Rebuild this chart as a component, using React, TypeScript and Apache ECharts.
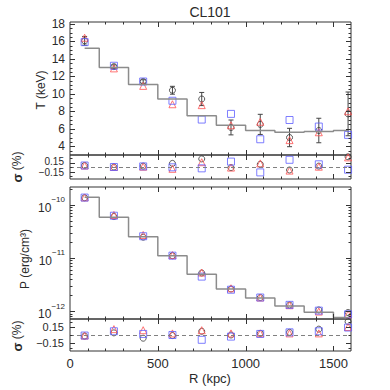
import React, { useEffect, useRef } from 'react';
import * as echarts from 'echarts';

// ---------- data ----------
const chartTitle = 'CL101';
const radiusKpc = [83.3, 250, 416.7, 583.3, 750, 916.7, 1083.3, 1250, 1416.7, 1583.3];

// temperature panel (keV)
const tModel = [15.2, 13.0, 11.05, 9.4, 7.5, 6.4, 5.8, 5.6, 5.7, 5.8];
const tBlack = [16.05, 13.1, 11.4, 10.4, 9.4, 6.15, 6.5, 5.0, 5.8, 7.7];
const tBlackErr = [0.5, 0.2, 0.2, 0.45, 0.75, 0.85, 1.15, 1.05, 1.4, 2.5];
const tRed = [16.4, 12.9, 10.9, 8.8, 8.7, 6.4, 6.8, 4.7, 5.6, 8.0];
const tBlue = [15.9, 13.2, 11.4, 9.2, 7.05, 7.7, 4.8, 7.0, 6.25, 5.3];

// temperature residuals
const sigT_black = [0.05, 0.0, 0.03, 0.12, 0.27, -0.02, 0.09, -0.1, 0.03, 0.34];
const sigT_red = [0.05, 0.0, 0.01, -0.06, 0.16, -0.02, 0.12, -0.12, 0.01, 0.32];
const sigT_blue = [0.05, 0.0, 0.02, -0.01, -0.045, 0.18, -0.18, 0.24, 0.09, -0.09];

// pressure panel (erg/cm^3)
const pModel = [1.38e-10, 5.8e-11, 2.5e-11, 1.1e-11, 4.9e-12, 2.6e-12, 1.76e-12, 1.25e-12, 9.5e-13, 7.6e-13];
const pBlack = [1.35e-10, 6.0e-11, 2.45e-11, 1.1e-11, 5.2e-12, 2.6e-12, 1.8e-12, 1.3e-12, 1.05e-12, 9.4e-13];
const pRed = [1.37e-10, 6.4e-11, 2.7e-11, 1.13e-11, 5.3e-12, 2.68e-12, 1.8e-12, 1.29e-12, 9.8e-13, 8.7e-13];
const pBlue = [1.36e-10, 6.2e-11, 2.55e-11, 1.1e-11, 4.45e-12, 2.52e-12, 1.8e-12, 1.31e-12, 1.02e-12, 8.7e-13];

// pressure residuals
const sigP_black = [-0.02, 0.04, -0.06, -0.01, 0.07, 0.0, 0.03, 0.05, 0.11, 0.25];
const sigP_red = [-0.01, 0.11, 0.09, 0.03, 0.09, 0.03, 0.03, 0.03, 0.03, 0.15];
const sigP_blue = [-0.01, 0.07, 0.02, 0.0, -0.09, -0.03, 0.02, 0.05, 0.07, 0.14];

// tick values
const xTickLabels = [0, 500, 1000, 1500];
const xMajorTicks = [500, 1000, 1500];
const xMinorTicks = [100, 200, 300, 400, 600, 700, 800, 900, 1100, 1200, 1300, 1400];
const tMajorTicks = [4, 6, 8, 10, 12, 14, 16, 18];
const tMinorTicks = [3.5, 4.5, 5, 5.5, 6.5, 7, 7.5, 8.5, 9, 9.5, 10.5, 11, 11.5, 12.5, 13, 13.5, 14.5, 15, 15.5, 16.5, 17, 17.5];
const sigMajorTicks = [-0.15, 0.15];
const sigMinorTicks = [-0.3, 0, 0.3];
const sig2MinorTicks = [-0.25, 0, 0.25];
const pMajorTicks = [1e-12, 1e-11, 1e-10];
const pMinorTicks = [8e-13, 9e-13, 2e-12, 3e-12, 4e-12, 5e-12, 6e-12, 7e-12, 8e-12, 9e-12,
  2e-11, 3e-11, 4e-11, 5e-11, 6e-11, 7e-11, 8e-11, 9e-11, 2e-10];

// ---------- styles ----------
const FONT = '"Liberation Sans", Arial, Helvetica, sans-serif';
const TXT = '#2a2a2a';
const AXIS = '#333333';
const RED = '#ff5252';
const BLUE = '#5e5eff';
const BLACK = '#333333';
const MODEL = '#8c8c8c';

const grids = [
  { left: 70, top: 22, width: 281, height: 133 },
  { left: 70, top: 155, width: 281, height: 24 },
  { left: 70, top: 187, width: 281, height: 132 },
  { left: 70, top: 319, width: 281, height: 32 },
];

const zip = (xs: number[], ys: number[]) => xs.map((x, i) => [x, ys[i]]);

function tickSeries(grid: number, xRefY: number, yRefX: number, yMajor: number[], yMinor: number[]) {
  const data: number[][] = [];
  xMajorTicks.forEach((v) => data.push([v, xRefY, 0, 5]));
  xMinorTicks.forEach((v) => data.push([v, xRefY, 0, 2.5]));
  yMajor.forEach((v) => data.push([yRefX, v, 1, 5]));
  yMinor.forEach((v) => data.push([yRefX, v, 1, 2.5]));
  return {
    type: 'custom',
    xAxisIndex: grid,
    yAxisIndex: grid,
    silent: true,
    z: 10,
    data,
    encode: { x: 0, y: 1 },
    renderItem: (params: any, api: any) => {
      const cs = params.coordSys;
      const kind = api.value(2);
      const len = api.value(3);
      const pt = api.coord([api.value(0), api.value(1)]);
      const style = { stroke: AXIS, lineWidth: 1 };
      if (kind === 0) {
        const x = Math.round(pt[0]) + 0.5;
        return {
          type: 'group',
          children: [
            { type: 'line', shape: { x1: x, y1: cs.y + cs.height, x2: x, y2: cs.y + cs.height - len }, style },
            { type: 'line', shape: { x1: x, y1: cs.y, x2: x, y2: cs.y + len }, style },
          ],
        };
      }
      const y = Math.round(pt[1]) + 0.5;
      return {
        type: 'group',
        children: [
          { type: 'line', shape: { x1: cs.x, y1: y, x2: cs.x + len, y2: y }, style },
          { type: 'line', shape: { x1: cs.x + cs.width, y1: y, x2: cs.x + cs.width - len, y2: y }, style },
        ],
      };
    },
  };
}

function markers(grid: number, ys: number[], kind: 'black' | 'red' | 'blue', extra: any = {}) {
  const sym = kind === 'black' ? 'circle' : kind === 'red' ? 'triangle' : 'rect';
  const col = kind === 'black' ? BLACK : kind === 'red' ? RED : BLUE;
  const size = kind === 'black' ? 6 : 7;
  return {
    type: 'scatter',
    xAxisIndex: grid,
    yAxisIndex: grid,
    symbol: sym,
    symbolSize: size,
    silent: true,
    itemStyle: { color: 'rgba(0,0,0,0)', borderColor: col, borderWidth: 1 },
    data: zip(radiusKpc, ys),
    ...extra,
  };
}

const zeroLine = {
  silent: true,
  symbol: ['none', 'none'],
  label: { show: false },
  lineStyle: { color: '#808080', type: [4, 3], width: 1 },
  data: [{ yAxis: 0 }],
};

export default function App() {
  const ref = useRef<HTMLDivElement>(null);
  useEffect(() => {
    if (!ref.current) return;
    const chart = echarts.init(ref.current, null, { renderer: 'svg' });

    const xAxis = grids.map((_, i) => ({
      type: 'value',
      gridIndex: i,
      min: 0,
      max: 1600,
      interval: 500,
      axisLine: { show: false },
      axisTick: { show: false },
      splitLine: { show: false },
      axisLabel:
        i === 3
          ? {
              show: true,
              margin: 6,
              fontSize: 13,
              fontFamily: FONT,
              color: TXT,
              formatter: (v: number) => (xTickLabels.includes(v) ? String(v) : ''),
            }
          : { show: false },
    }));

    const sigLabel = (v: number) => {
      if (Math.abs(Math.abs(v) - 0.15) < 1e-6) return v > 0 ? '0.15' : '\u22120.15';
      return '';
    };
    const sigLabelTight = (v: number) => {
      if (Math.abs(Math.abs(v) - 0.15) < 1e-6) return v > 0 ? '{u|0.15}' : '{d|\u22120.15}';
      return '';
    };
    const baseY = {
      axisLine: { show: false },
      axisTick: { show: false },
      splitLine: { show: false },
    };
    const yAxis = [
      {
        ...baseY,
        type: 'value',
        gridIndex: 0,
        min: 3,
        max: 18.2,
        interval: 1,
        axisLabel: {
          margin: 5,
          fontSize: 12,
          fontFamily: FONT,
          color: TXT,
          formatter: (v: number) => {
            const r = Math.round(v);
            return Math.abs(v - r) < 1e-6 && r % 2 === 0 && r >= 4 ? String(r) : '';
          },
        },
      },
      {
        ...baseY,
        type: 'value',
        gridIndex: 1,
        min: -0.4,
        max: 0.4,
        interval: 0.05,
        axisLabel: {
          margin: 6,
          fontFamily: FONT,
          color: TXT,
          formatter: sigLabelTight,
          rich: {
            u: { fontSize: 10, lineHeight: 10, fontFamily: FONT, color: TXT, padding: [0, 0, 2, 0] },
            d: { fontSize: 10, lineHeight: 10, fontFamily: FONT, color: TXT, padding: [2, 0, 0, 0] },
          },
        },
      },
      {
        ...baseY,
        type: 'log',
        logBase: 10,
        gridIndex: 2,
        min: 7.1e-13,
        max: 2.15e-10,
        axisLabel: {
          margin: 5,
          fontFamily: FONT,
          color: TXT,
          formatter: (v: number) => {
            const e = Math.log10(v);
            const r = Math.round(e);
            if (Math.abs(e - r) < 1e-4) return `{b|10}{s|${r < 0 ? '\u2212' : ''}${Math.abs(r)}}`;
            return '';
          },
          rich: {
            b: { fontSize: 12, fontFamily: FONT, color: TXT, lineHeight: 18, verticalAlign: 'bottom' },
            s: { fontSize: 8, fontFamily: FONT, color: TXT, lineHeight: 18, verticalAlign: 'top' },
          },
        },
      },
      {
        ...baseY,
        type: 'value',
        gridIndex: 3,
        min: -0.3,
        max: 0.3,
        interval: 0.05,
        axisLabel: { margin: 6, fontSize: 11, lineHeight: 12, fontFamily: FONT, color: TXT, formatter: sigLabel },
      },
    ];

    const series: any[] = [
      // Temperature panel
      {
        type: 'line',
        xAxisIndex: 0,
        yAxisIndex: 0,
        step: 'middle',
        symbol: 'none',
        silent: true,
        lineStyle: { color: MODEL, width: 1.5 },
        data: zip(radiusKpc, tModel),
      },
      {
        type: 'custom',
        xAxisIndex: 0,
        yAxisIndex: 0,
        silent: true,
        encode: { x: 0, y: 1 },
        data: radiusKpc.map((r, i) => [r, tBlack[i], tBlackErr[i]]),
        renderItem: (_p: any, api: any) => {
          const x = api.value(0);
          const y = api.value(1);
          const e = api.value(2);
          const lo = api.coord([x, y - e]);
          const hi = api.coord([x, y + e]);
          const style = { stroke: '#444', lineWidth: 1 };
          return {
            type: 'group',
            children: [
              { type: 'line', shape: { x1: lo[0], y1: lo[1], x2: hi[0], y2: hi[1] }, style },
              { type: 'line', shape: { x1: lo[0] - 2.5, y1: lo[1], x2: lo[0] + 2.5, y2: lo[1] }, style },
              { type: 'line', shape: { x1: hi[0] - 2.5, y1: hi[1], x2: hi[0] + 2.5, y2: hi[1] }, style },
            ],
          };
        },
      },
      markers(0, tBlack, 'black'),
      markers(0, tRed, 'red'),
      markers(0, tBlue, 'blue'),
      tickSeries(0, 10, 800, tMajorTicks, tMinorTicks),

      // T residuals
      markers(1, sigT_black, 'black', { markLine: zeroLine }),
      markers(1, sigT_red, 'red'),
      markers(1, sigT_blue, 'blue'),
      tickSeries(1, 0, 800, sigMajorTicks, sigMinorTicks),

      // Pressure panel
      {
        type: 'line',
        xAxisIndex: 2,
        yAxisIndex: 2,
        step: 'middle',
        symbol: 'none',
        silent: true,
        lineStyle: { color: MODEL, width: 1.5 },
        data: zip(radiusKpc, pModel),
      },
      markers(2, pBlack, 'black'),
      markers(2, pRed, 'red'),
      markers(2, pBlue, 'blue'),
      tickSeries(2, 1e-11, 800, pMajorTicks, pMinorTicks),

      // P residuals
      markers(3, sigP_black, 'black', { markLine: zeroLine }),
      markers(3, sigP_red, 'red'),
      markers(3, sigP_blue, 'blue'),
      tickSeries(3, 0, 800, sigMajorTicks, sig2MinorTicks),
    ];

    const txt = (text: string, x: number, y: number, size: number, rot = 0, extra: any = {}) => ({
      type: 'text',
      x,
      y,
      rotation: rot,
      silent: true,
      style: {
        text,
        fontSize: size,
        fontFamily: FONT,
        fill: TXT,
        align: 'center',
        verticalAlign: 'middle',
        ...extra,
      },
    });

    chart.setOption({
      animation: false,
      backgroundColor: '#ffffff',
      grid: grids.map((g) => ({ ...g, show: true, borderColor: AXIS, borderWidth: 1, backgroundColor: 'transparent' })),
      xAxis,
      yAxis,
      series,
      graphic: [
        txt(chartTitle, 210, 12, 14),
        txt('T (keV)', 41, 90, 12, Math.PI / 2),
        txt('{s|\u03c3} (%)', 17, 167, 12, Math.PI / 2, {
          rich: { s: { fontSize: 13, fontWeight: 'bold', fontFamily: FONT, fill: TXT } },
        }),
        txt('P (erg/cm\u00b3)', 25, 259, 12, Math.PI / 2),
        txt('{s|\u03c3} (%)', 17, 336, 12, Math.PI / 2, {
          rich: { s: { fontSize: 13, fontWeight: 'bold', fontFamily: FONT, fill: TXT } },
        }),
        txt('R (kpc)', 210, 378, 13),
      ],
    });

    return () => chart.dispose();
  }, []);

  return <div ref={ref} style={{ position: 'fixed', left: 0, top: 0, width: 390, height: 390 }} />;
}
